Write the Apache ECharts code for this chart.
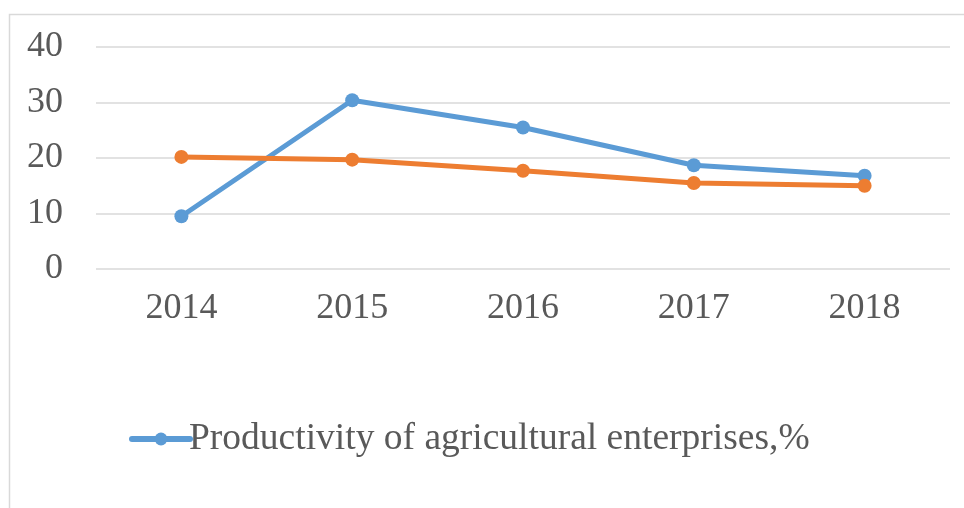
<!DOCTYPE html>
<html><head><meta charset="utf-8">
<script src="https://cdn.jsdelivr.net/npm/echarts@6/dist/echarts.min.js"></script>
<style>html,body{margin:0;padding:0;background:#fff}#c{width:964px;height:508px}</style>
</head><body><div id="c"></div>
<script>
var categories = ['2014', '2015', '2016', '2017', '2018'];
var productivity = [9.5, 30.4, 25.5, 18.7, 16.8];
var secondSeries = [20.2, 19.7, 17.7, 15.5, 15.0];
var seriesNames = ['Productivity of agricultural enterprises,%', 'Series 2'];

var chart = echarts.init(document.getElementById('c'));
var font = "'Liberation Serif', 'Times New Roman', serif";
chart.setOption({
  animation: false,
  backgroundColor: '#fff',
  graphic: [{
    type: 'rect', shape: {x: 9.5, y: 14.5, width: 980, height: 520},
    style: {fill: 'none', stroke: '#d9d9d9', lineWidth: 1.5}, silent: true, z: -1
  }],
  grid: {left: 96, right: 14, top: 47, bottom: 239},
  legend: {
    data: [seriesNames[0]], left: 124, top: 415,
    itemWidth: 58, itemHeight: 16, itemGap: 6,
    lineStyle: {width: 6, cap: 'round'},
    textStyle: {fontFamily: font, fontSize: 37.5, color: '#595959', padding: [0,0,0,-6]}
  },
  xAxis: {
    type: 'category', data: categories, boundaryGap: true,
    axisLine: {show: false}, axisTick: {show: false},
    axisLabel: {fontFamily: font, fontSize: 36, color: '#595959', margin: 22}
  },
  yAxis: {
    type: 'value', min: 0, max: 40, interval: 10,
    axisLine: {show: false}, axisTick: {show: false},
    splitLine: {lineStyle: {color: '#d9d9d9', width: 1.5}},
    axisLabel: {fontFamily: font, fontSize: 36, color: '#595959', margin: 33}
  },
  series: [
    {name: seriesNames[0], type: 'line', data: productivity, symbol: 'circle', symbolSize: 14,
     itemStyle: {color: '#5B9BD5'}, lineStyle: {color: '#5B9BD5', width: 5}, z: 2},
    {name: seriesNames[1], type: 'line', data: secondSeries, symbol: 'circle', symbolSize: 14,
     itemStyle: {color: '#ED7D31'}, lineStyle: {color: '#ED7D31', width: 5}, z: 3}
  ]
});
</script></body></html>
